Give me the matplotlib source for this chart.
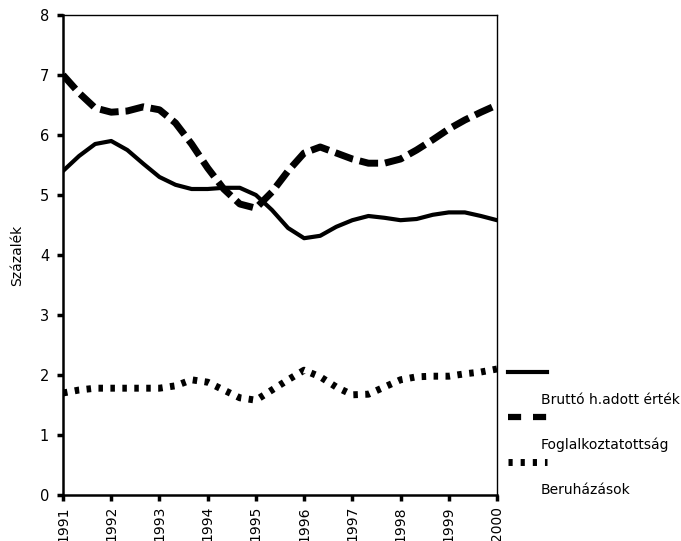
import numpy as np
import matplotlib
matplotlib.use('Agg')
from matplotlib import pyplot as plt
from matplotlib.lines import Line2D

# Data (roughly three readings per year, 1991-2000)
years = [str(y) for y in range(1991, 2001)]
brutto = [5.40, 5.65, 5.85, 5.90, 5.75, 5.52, 5.30, 5.17, 5.10, 5.10,
          5.12, 5.12, 5.00, 4.75, 4.45, 4.28, 4.32, 4.47, 4.58, 4.65,
          4.62, 4.58, 4.60, 4.67, 4.71, 4.71, 4.65, 4.58]
foglalk = [7.00, 6.70, 6.45, 6.38, 6.40, 6.47, 6.42, 6.20, 5.85, 5.45,
           5.10, 4.85, 4.78, 5.05, 5.40, 5.70, 5.80, 5.70, 5.60, 5.53,
           5.53, 5.60, 5.75, 5.92, 6.10, 6.25, 6.38, 6.50]
beruh = [1.70, 1.75, 1.78, 1.78, 1.78, 1.78, 1.78, 1.82, 1.92, 1.88,
         1.75, 1.62, 1.58, 1.75, 1.92, 2.08, 1.97, 1.80, 1.67, 1.68,
         1.80, 1.92, 1.97, 1.98, 1.98, 2.02, 2.05, 2.10]
labels = ['Bruttó h.adott érték', 'Foglalkoztatottság', 'Beruházások']

x = 1991 + np.arange(len(brutto)) / 3.0

fig = plt.figure(figsize=(6.81, 5.41), dpi=100)
ax = fig.add_axes([63 / 681, 46 / 541, 434 / 681, 480 / 541])

styles = [
    dict(linestyle='-', linewidth=3),
    dict(linestyle=(0, (2.7, 1.0)), linewidth=5, dash_capstyle='butt'),
    dict(linestyle=(0, (0.65, 1.07)), linewidth=5, dash_capstyle='butt'),
]
for series, st in zip([brutto, foglalk, beruh], styles):
    ax.plot(x, series, color='black', solid_joinstyle='round', **st)

ax.set_xlim(1991, 2000)
ax.set_ylim(0, 8)
ax.set_xticks(range(1991, 2001))
ax.set_xticklabels(years, rotation=90)
ax.set_yticks(range(0, 9))
ax.tick_params(direction='out', length=4, width=2.5, labelsize=10.5)
ax.tick_params(axis='y', pad=6)
ax.tick_params(axis='x', labelsize=10, pad=4)
ax.set_ylabel('Százalék', fontsize=10, labelpad=11)

for side in ['left', 'bottom']:
    ax.spines[side].set_linewidth(1.8)
for side in ['top', 'right']:
    ax.spines[side].set_linewidth(1.0)

# Legend drawn outside the axes: handle row, then text row below it
leg_styles = [
    dict(linestyle='-', linewidth=3),
    dict(linestyle=(0, (2.1, 1.9)), linewidth=4.5, dash_capstyle='butt'),
    dict(linestyle=(0, (0.6, 1.15)), linewidth=5, dash_capstyle='butt'),
]
leg_y = [372, 417, 462]
for st, lab, yy in zip(leg_styles, labels, leg_y):
    yf = 1 - yy / 541
    fig.add_artist(Line2D([508 / 681, 547 / 681], [yf, yf], color='black',
                          transform=fig.transFigure, **st))
    fig.text(541 / 681, 1 - (yy + 28) / 541, lab, fontsize=10, va='center')

fig.savefig('out.png', dpi=100)
